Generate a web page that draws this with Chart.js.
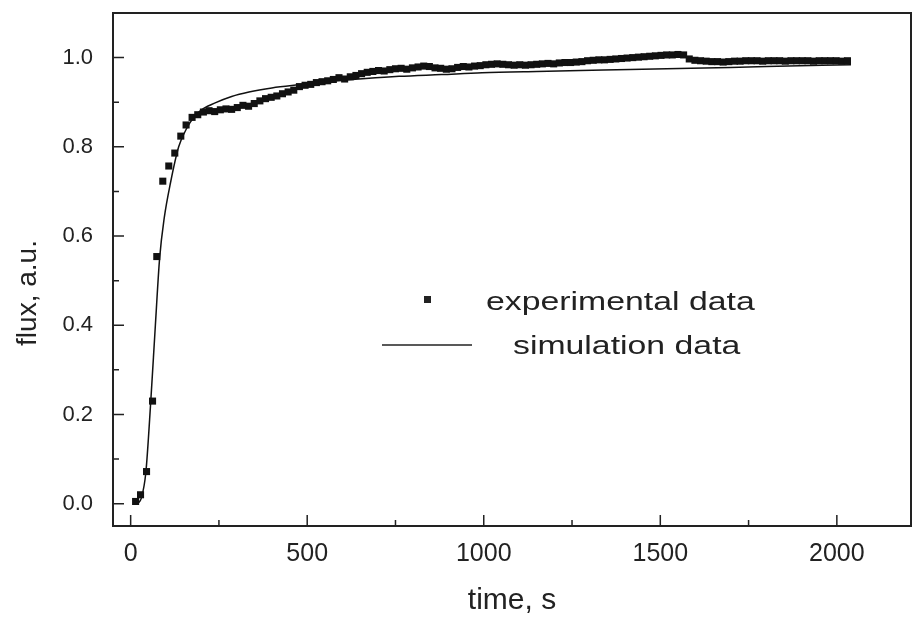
<!DOCTYPE html>
<html>
<head>
<meta charset="utf-8">
<title>flux vs time</title>
<script src="https://cdn.jsdelivr.net/npm/chart.js@4/dist/chart.umd.min.js"></script>
<style>
  html, body { margin: 0; padding: 0; background: #fff; }
  #chart { display: block; }
</style>
</head>
<body>
<canvas id="chart" width="916" height="621"></canvas>
<script>
// experimental points (time, s / flux, a.u.)
const expTime = [14, 28, 45, 62, 74, 91, 108, 125, 142, 157, 174, 190,
  206, 222, 238, 254, 270, 286, 302, 318, 334, 350, 366, 382, 398, 414, 430, 446,
  462, 478, 494, 510, 526, 542, 558, 574, 590, 606, 622, 638, 654, 670, 686, 702,
  718, 734, 750, 766, 782, 798, 814, 830, 846, 862, 878, 894, 910, 926, 942, 958,
  974, 990, 1006, 1022, 1038, 1054, 1070, 1086, 1102, 1118, 1134, 1150, 1166, 1182,
  1198, 1214, 1230, 1246, 1262, 1278, 1294, 1310, 1326, 1342, 1358, 1374, 1390, 1406,
  1422, 1438, 1454, 1470, 1486, 1502, 1518, 1534, 1550, 1566, 1582, 1598, 1614, 1630,
  1646, 1662, 1678, 1694, 1710, 1726, 1742, 1758, 1774, 1790, 1806, 1822, 1838, 1854,
  1870, 1886, 1902, 1918, 1934, 1950, 1966, 1982, 1998, 2014, 2030];
const expFlux = [0.005, 0.02, 0.072, 0.23, 0.554, 0.723, 0.757, 0.786, 0.824, 0.849, 0.866, 0.872,
  0.878, 0.881, 0.879, 0.883, 0.885, 0.884, 0.888, 0.893, 0.891, 0.897, 0.903, 0.908, 0.911, 0.914, 0.919, 0.923,
  0.927, 0.935, 0.938, 0.940, 0.944, 0.946, 0.948, 0.951, 0.955, 0.952, 0.957, 0.960, 0.964, 0.967, 0.969, 0.971,
  0.970, 0.973, 0.975, 0.976, 0.974, 0.977, 0.979, 0.981, 0.980, 0.977, 0.976, 0.974, 0.975, 0.978, 0.980, 0.979,
  0.981, 0.982, 0.984, 0.985, 0.986, 0.985, 0.984, 0.983, 0.984, 0.983, 0.984, 0.985, 0.986, 0.987,
  0.986, 0.988, 0.989, 0.989, 0.990, 0.991, 0.993, 0.994, 0.995, 0.995, 0.996, 0.997, 0.998, 0.999,
  1.000, 1.001, 1.002, 1.003, 1.004, 1.005, 1.006, 1.006, 1.007, 1.006, 0.997, 0.994, 0.993, 0.992,
  0.991, 0.991, 0.990, 0.991, 0.992, 0.992, 0.993, 0.993, 0.993, 0.992, 0.993, 0.993, 0.993, 0.992,
  0.993, 0.993, 0.993, 0.993, 0.992, 0.993, 0.993, 0.993, 0.993, 0.992, 0.993];

// simulated curve
const simTime = [20, 30, 43, 57, 70, 82, 95, 113, 136, 159, 193, 241, 286, 335, 400, 476,
  560, 666, 760, 880, 995, 1150, 1339, 1588, 1800, 2040];
const simFlux = [0.0, 0.012, 0.07, 0.23, 0.40, 0.55, 0.64, 0.72, 0.80, 0.842, 0.878, 0.899,
  0.913, 0.923, 0.932, 0.939, 0.946, 0.953, 0.958, 0.962, 0.966, 0.969, 0.972, 0.976, 0.980, 0.984];

const xTicks = [0, 500, 1000, 1500, 2000];
const xMinor = [250, 750, 1250, 1750];
const yTicks = [0, 0.2, 0.4, 0.6, 0.8, 1.0];
const yMinor = [0.1, 0.3, 0.5, 0.7, 0.9];

const INK = '#222';
const FONT = '"Liberation Sans", Arial, sans-serif';

// frame + inward tick marks + rotated y title
const framePlugin = {
  id: 'frame',
  afterDraw(chart) {
    const { ctx, chartArea: a, scales } = chart;
    const x = scales.x, y = scales.y;
    ctx.save();
    ctx.strokeStyle = INK;
    ctx.lineWidth = 2;
    ctx.strokeRect(a.left, a.top, a.right - a.left, a.bottom - a.top);
    ctx.lineWidth = 1.5;
    ctx.beginPath();
    xTicks.forEach(v => { const p = x.getPixelForValue(v); ctx.moveTo(p, a.bottom); ctx.lineTo(p, a.bottom - 11); });
    xMinor.forEach(v => { const p = x.getPixelForValue(v); ctx.moveTo(p, a.bottom); ctx.lineTo(p, a.bottom - 6); });
    yTicks.forEach(v => { const p = y.getPixelForValue(v); ctx.moveTo(a.left, p); ctx.lineTo(a.left + 11, p); });
    yMinor.forEach(v => { const p = y.getPixelForValue(v); ctx.moveTo(a.left, p); ctx.lineTo(a.left + 6, p); });
    ctx.stroke();

    // y axis title
    ctx.fillStyle = INK;
    ctx.font = '28px ' + FONT;
    ctx.textAlign = 'center';
    ctx.textBaseline = 'middle';
    ctx.translate(28, 293);
    ctx.rotate(-Math.PI / 2);
    ctx.fillText('flux, a.u.', 0, 0);
    ctx.restore();
  }
};

// legend inside the plot
const legendPlugin = {
  id: 'innerLegend',
  afterDraw(chart) {
    const { ctx } = chart;
    ctx.save();
    ctx.fillStyle = INK;
    ctx.fillRect(424, 296, 7, 7);
    ctx.strokeStyle = INK;
    ctx.lineWidth = 1.5;
    ctx.beginPath();
    ctx.moveTo(382, 345);
    ctx.lineTo(472, 345);
    ctx.stroke();
    ctx.font = '26px ' + FONT;
    ctx.textBaseline = 'alphabetic';
    ctx.save();
    ctx.translate(486, 310);
    ctx.scale(1.3, 1);
    ctx.fillText('experimental data', 0, 0);
    ctx.restore();
    ctx.translate(513, 354);
    ctx.scale(1.3, 1);
    ctx.fillText('simulation data', 0, 0);
    ctx.restore();
  }
};

const ctx = document.getElementById('chart').getContext('2d');

new Chart(ctx, {
  type: 'scatter',
  data: {
    datasets: [
      {
        label: 'experimental data',
        data: expTime.map((t, i) => ({ x: t, y: expFlux[i] })),
        pointStyle: 'rect',
        pointRadius: 5,
        pointBackgroundColor: '#111',
        pointBorderWidth: 0,
        showLine: false
      },
      {
        label: 'simulation data',
        data: simTime.map((t, i) => ({ x: t, y: simFlux[i] })),
        showLine: true,
        borderColor: '#111',
        borderWidth: 1.5,
        pointRadius: 0,
        cubicInterpolationMode: 'monotone'
      }
    ]
  },
  options: {
    responsive: false,
    animation: false,
    devicePixelRatio: 1,
    layout: { padding: { top: 13, right: 4, left: 0, bottom: 0 } },
    plugins: {
      legend: { display: false },
      tooltip: { enabled: false }
    },
    scales: {
      x: {
        type: 'linear',
        min: -50,
        max: 2210,
        afterFit: s => { s.height = 95; s.paddingLeft = 0; s.paddingRight = 0; },
        afterBuildTicks: s => { s.ticks = xTicks.map(v => ({ value: v })); },
        grid: { display: false, drawTicks: false },
        border: { display: false },
        ticks: {
          color: INK,
          padding: 13,
          maxRotation: 0,
          autoSkip: false,
          callback: v => String(v),
          font: { family: FONT, size: 25 }
        },
        title: {
          display: true,
          text: 'time, s',
          color: INK,
          padding: { top: 0, bottom: 2 },
          font: { family: FONT, size: 30 }
        }
      },
      y: {
        type: 'linear',
        min: -0.05,
        max: 1.1,
        afterFit: s => { s.width = 113; s.paddingTop = 0; s.paddingBottom = 0; },
        afterBuildTicks: s => { s.ticks = yTicks.map(v => ({ value: v })); },
        grid: { display: false, drawTicks: false },
        border: { display: false },
        ticks: {
          color: INK,
          padding: 20,
          autoSkip: false,
          callback: v => v.toFixed(1),
          font: { family: FONT, size: 22 }
        }
      }
    }
  },
  plugins: [framePlugin, legendPlugin]
});
</script>
</body>
</html>
